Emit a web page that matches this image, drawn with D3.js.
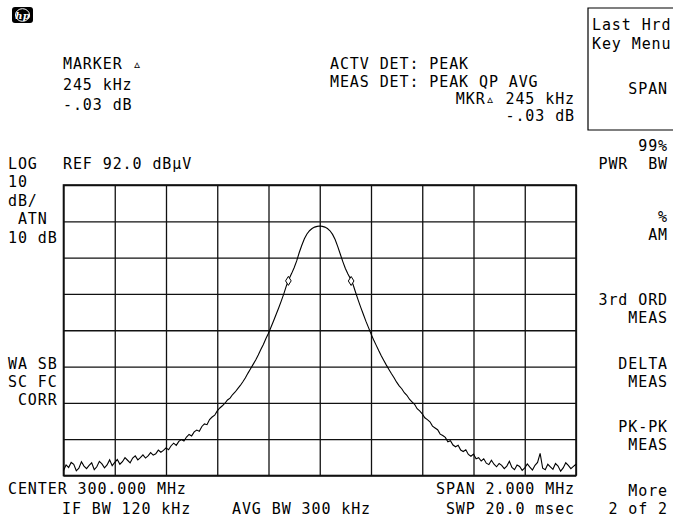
<!DOCTYPE html>
<html><head><meta charset="utf-8">
<script src="https://cdn.jsdelivr.net/npm/d3@7"></script>
<style>
html,body{margin:0;padding:0;background:#fff;}
svg text{font-family:"DejaVu Sans Mono",monospace;font-size:15px;fill:#000;letter-spacing:0.9px;}
</style></head>
<body><svg id="c" width="673" height="521"></svg>
<script>
// ---- data ----
const centerMHz = 300.0;
const spanMHz = 2.0;
const refLevel = 92.0;          // dBµV, top of screen
const dbPerDiv = 10;
const xGridMHz = [299.0, 299.2, 299.4, 299.6, 299.8, 300.0, 300.2, 300.4, 300.6, 300.8, 301.0];
const yGridDb = [92, 82, 72, 62, 52, 42, 32, 22, 12];
// trace, 201 points from 299.000 to 301.000 MHz (10 kHz steps), dBµV
const traceDbuV = [
 13.4,14.9,14.2,15.6,15.1,13.3,14.0,15.8,14.6,13.9,
 14.8,15.5,13.6,14.4,15.9,15.2,14.1,14.9,16.3,14.7,
 15.6,16.4,15.1,15.8,16.9,16.2,15.5,16.8,17.4,16.3,
 16.9,17.7,16.8,17.4,18.3,17.6,18.0,19.0,18.4,18.9,
 19.6,19.1,20.2,20.9,20.3,21.4,21.9,21.5,22.6,23.3,
 22.9,24.0,24.5,24.2,25.5,26.2,26.0,27.4,28.1,28.6,
 29.8,30.6,31.2,31.9,32.8,33.3,34.3,35.0,35.9,36.8,
 37.8,38.9,40.2,41.4,42.6,43.8,45.2,46.7,48.1,49.7,
 51.2,52.9,54.6,56.4,58.2,60.1,62.1,64.3,66.1,67.6,
 69.2,71.1,73.4,75.4,77.2,78.5,79.4,80.0,80.4,80.6,
 80.7,
 80.6,80.4,80.0,79.4,78.4,77.0,75.1,73.0,70.9,69.0,
 67.5,66.2,64.6,62.4,60.3,58.3,56.4,54.5,52.8,51.0,
 49.4,47.9,46.4,45.0,43.7,42.4,41.2,40.0,38.9,37.7,
 36.7,35.9,34.8,34.1,33.0,32.3,31.6,30.4,29.8,29.0,
 27.9,27.4,26.8,25.6,25.1,24.6,23.4,23.0,22.5,21.3,
 21.6,20.4,19.9,20.3,19.0,18.6,19.1,17.8,17.3,17.9,
 16.6,16.9,16.0,16.6,15.4,15.0,16.2,15.1,14.4,15.3,
 14.8,13.9,14.6,15.9,14.2,13.6,14.9,14.5,13.4,14.1,
 15.2,14.3,13.5,14.8,15.6,18.1,14.0,13.6,15.1,14.4,
 13.7,15.3,14.6,13.2,14.1,15.5,14.8,13.9,14.5,15.1
];
const markerMHz = [299.8775, 300.1225];
const markerDbuV = [65.6, 65.57];

const markerText = ["MARKER \u25B5", "245 kHz", "-.03 dB"];
const detText = ["ACTV DET: PEAK", "MEAS DET: PEAK QP AVG"];
const mkrText = ["MKR\u25B5 245 kHz", "-.03 dB"];
const leftText = ["LOG", "10", "dB/", " ATN", "10 dB"];
const corrText = ["WA SB", "SC FC", " CORR"];
const refText = "REF 92.0 dB\u00B5V";
const bottomText = ["CENTER 300.000 MHz", "IF BW 120 kHz", "AVG BW 300 kHz", "SPAN 2.000 MHz", "SWP 20.0 msec"];
const softKeys = [["99%", "PWR  BW"], ["%", "AM"], ["3rd ORD", "MEAS"], ["DELTA", "MEAS"], ["PK-PK", "MEAS"], ["More", "2 of 2"]];
const boxKeys = ["Last Hrd", "Key Menu", "SPAN"];

// ---- layout ----
const svg = d3.select("#c");
const L = 63.5, R = 576, T = 185, B = 475.5;
const x = d3.scaleLinear().domain([centerMHz - spanMHz/2, centerMHz + spanMHz/2]).range([L, R]);
const y = d3.scaleLinear().domain([refLevel - 8*dbPerDiv, refLevel]).range([B, T]);

// grid via axes
const gx = svg.append("g").attr("transform", `translate(0,${B})`)
  .call(d3.axisBottom(x).tickValues(xGridMHz).tickSize(-(B - T)).tickFormat(""));
const gy = svg.append("g").attr("transform", `translate(${L},0)`)
  .call(d3.axisLeft(y).tickValues(yGridDb).tickSize(-(R - L)).tickFormat(""));
[gx, gy].forEach(g => {
  g.select(".domain").remove();
  g.selectAll("line").attr("stroke", "#111").attr("stroke-width", 1.3);
});
svg.append("rect").attr("x", L).attr("y", T).attr("width", R - L).attr("height", B - T)
  .attr("fill", "none").attr("stroke", "#111").attr("stroke-width", 1.6);

// trace
const pts = traceDbuV.map((v, i) => [centerMHz - spanMHz/2 + i * spanMHz / (traceDbuV.length - 1), v]);
svg.append("path").datum(pts)
  .attr("d", d3.line().x(d => x(d[0])).y(d => y(d[1])))
  .attr("fill", "none").attr("stroke", "#000").attr("stroke-width", 1.1);

// markers (open diamonds)
markerMHz.forEach((f, i) => {
  const cx = x(f), cy = y(markerDbuV[i]);
  svg.append("path").attr("d", `M${cx},${cy-4.5}L${cx+2.8},${cy}L${cx},${cy+4.5}L${cx-2.8},${cy}Z`)
    .attr("fill", "#fff").attr("stroke", "#000").attr("stroke-width", 1);
});

// HP logo
svg.append("rect").attr("x", 12).attr("y", 7).attr("width", 21).attr("height", 16).attr("rx", 3).attr("fill", "#000");
svg.append("ellipse").attr("cx", 22.5).attr("cy", 15).attr("rx", 7).attr("ry", 6.3).attr("fill", "none").attr("stroke", "#fff").attr("stroke-width", 1);
svg.append("text").attr("x", 22.5).attr("y", 19).attr("text-anchor", "middle")
  .style("font-family", "DejaVu Serif").style("font-style", "italic").style("font-weight", "bold")
  .style("font-size", "10px").style("fill", "#fff").style("letter-spacing", "0").text("hp");

function txt(s, xx, yy, anchor) {
  svg.append("text").attr("x", xx).attr("y", yy).attr("text-anchor", anchor || "start")
    .attr("xml:space", "preserve").style("white-space", "pre").text(s);
}
markerText.forEach((s, i) => txt(s, 63, 69 + i * 20.5));
detText.forEach((s, i) => txt(s, 330, 69 + i * 17.5));
txt(mkrText[0], 575, 104, "end");
txt(mkrText[1], 575, 121, "end");
txt(leftText[0], 8, 169); txt(refText, 63, 169);
leftText.slice(1).forEach((s, i) => txt(s, 8, 187 + i * 18.5));
corrText.forEach((s, i) => txt(s, 8, 369 + i * 18));
txt(bottomText[0], 8, 494);
txt(bottomText[1], 62, 514);
txt(bottomText[2], 232, 514);
txt(bottomText[3], 575, 494, "end");
txt(bottomText[4], 575, 514, "end");

// softkey box
svg.append("path").attr("d", "M673,8H588V130H673").attr("fill", "none").attr("stroke", "#000").attr("stroke-width", 1.2);
txt(boxKeys[0], 592, 30); txt(boxKeys[1], 592, 49); txt(boxKeys[2], 668, 94, "end");
const skY = [151, 222, 305, 369, 432, 496];
softKeys.forEach((k, i) => { txt(k[0], 668, skY[i], "end"); txt(k[1], 668, skY[i] + 18, "end"); });
</script></body></html>
